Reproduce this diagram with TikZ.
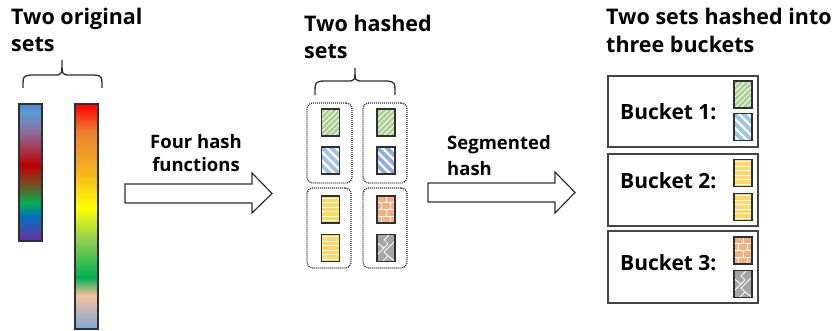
\documentclass[tikz,border=0pt]{standalone}
\usepackage{fontspec}
\setmainfont{Open Sans}
\usetikzlibrary{calc}
\definecolor{cgreen}{HTML}{A9D18E}
\definecolor{cblue}{HTML}{9DC3E6}
\definecolor{cblueb}{HTML}{8FAADC}
\definecolor{cyellow}{HTML}{FFD966}
\definecolor{corange}{HTML}{F4B183}
\definecolor{cgray}{HTML}{A5A5A5}
\definecolor{edge}{HTML}{303030}
\definecolor{gpurple}{HTML}{7030A0}
\definecolor{gdblue}{HTML}{0070C0}
\definecolor{ggreen}{HTML}{00B050}
\definecolor{gbrown}{HTML}{7A4A20}
\definecolor{gred}{HTML}{C00000}
\definecolor{gmauve}{HTML}{8B6E9E}
\definecolor{glblue}{HTML}{5B9BD5}
\definecolor{gtopblue}{HTML}{4F86C6}
\definecolor{gbotblue}{HTML}{7FA8D8}
\definecolor{gpeach}{HTML}{F4C0A0}
\definecolor{glime}{HTML}{92D050}
\definecolor{gyellow}{HTML}{FFFF00}
\definecolor{ggold}{HTML}{F5B41E}
\definecolor{gorange}{HTML}{ED7D31}
\definecolor{gbright}{HTML}{FF0000}
\pgfdeclareverticalshading{barone}{100bp}{%
  color(0bp)=(gpurple);
  color(25bp)=(gpurple);
  color(34bp)=(gdblue);
  color(39bp)=(ggreen);
  color(46bp)=(gbrown);
  color(52.5bp)=(gred);
  color(65bp)=(gmauve);
  color(72bp)=(glblue);
  color(75bp)=(gtopblue);
  color(100bp)=(gtopblue)}
\pgfdeclareverticalshading{bartwo}{100bp}{%
  color(0bp)=(gbotblue);
  color(25bp)=(gbotblue);
  color(32.5bp)=(gpeach);
  color(36.5bp)=(ggreen);
  color(45bp)=(glime);
  color(52bp)=(gyellow);
  color(60bp)=(ggold);
  color(69bp)=(gorange);
  color(75bp)=(gbright);
  color(100bp)=(gbright)}
\tikzset{
  title/.style={anchor=base west, inner sep=0pt, font=\fontsize{21.5}{26}\selectfont\bfseries},
  alabel/.style={inner sep=0pt, font=\fontsize{18.5}{23}\selectfont\bfseries},
  blabel/.style={anchor=west, inner sep=0pt, font=\fontsize{21}{26}\selectfont\bfseries},
  cell/.style={draw=edge, line width=1.3pt, minimum width=18pt, minimum height=27pt, inner sep=0pt},
  greenbox/.style={cell, fill=cgreen, path picture={
     \foreach \k in {-38.5,-33,...,38.5}
       \draw[white, line width=0.9pt, shift={(path picture bounding box.center)}]
         (\k pt-20pt,-20pt) -- (\k pt+20pt,20pt);}},
  bluebox/.style={cell, fill=#1, path picture={
     \foreach \k in {-36,-27,...,36}
       \draw[white, line width=2.4pt, shift={(path picture bounding box.center)}]
         (\k pt-20pt,20pt) -- (\k pt+20pt,-20pt);}},
  bluebox/.default=cblue,
  yellowbox/.style={cell, fill=cyellow, path picture={
     \foreach \k in {-11.25,-6.75,...,11.25}
       \draw[white, line width=0.9pt, shift={(path picture bounding box.center)}]
         (-12pt,\k pt) -- (12pt,\k pt);}},
  brickbox/.style={cell, fill=corange, path picture={
     \begin{scope}[shift={(path picture bounding box.center)}, white, line width=1pt]
       \foreach \k in {-6.75,0,6.75} \draw (-12pt,\k pt) -- (12pt,\k pt);
       \draw (0pt,6.75pt) -- (0pt,14pt);
       \draw (-4.5pt,0pt) -- (-4.5pt,6.75pt) (4.5pt,0pt) -- (4.5pt,6.75pt);
       \draw (0pt,-6.75pt) -- (0pt,0pt);
       \draw (-4.5pt,-14pt) -- (-4.5pt,-6.75pt) (4.5pt,-14pt) -- (4.5pt,-6.75pt);
     \end{scope}}},
  graybox/.style={cell, fill=cgray, path picture={
     \begin{scope}[shift={(path picture bounding box.center)}, white, line width=1pt]
       \draw (-10pt,-8pt) -- (2pt,4pt) -- (-2pt,8pt) -- (10pt,20pt);
       \draw (-10pt,-20pt) -- (2pt,-8pt) -- (-2pt,-4pt) -- (10pt,8pt);
       \draw (2pt,-8pt) -- (10pt,-14pt);
       \draw (-10pt,6pt) -- (-2pt,0pt);
     \end{scope}}},
  grp/.style={draw=edge, dash pattern=on 1pt off 1pt, line width=1.3pt, rounded corners=6pt, minimum width=44pt, minimum height=80pt, inner sep=0pt},
  bucket/.style={draw=edge!90, line width=1.2pt, minimum width=150pt, minimum height=71pt, inner sep=0pt},
  bigarrow/.style={draw=edge, line width=1.2pt, fill=white, line join=miter},
  bracestyle/.style={draw=edge, line width=1.3pt}
}
\begin{document}
\begin{tikzpicture}[x=1pt, y=-1pt]
\useasboundingbox (0,0) rectangle (832,331);

% titles
\node[title] (t1a) at (11,25) {Two original};
\node[title] (t1b) at (11,52) {sets};
\node[title] (t2a) at (304,32) {Two hashed};
\node[title] (t2b) at (304,59) {sets};
\node[title] (t3a) at (606,25) {Two sets hashed into};
\node[title] (t3b) at (606,53) {three buckets};

% braces
\draw[bracestyle] (23,88) .. controls (23,76) .. (31,75) -- (54,75) .. controls (62,75) .. (62,60)
   .. controls (62,75) .. (70,75) -- (94,75) .. controls (102,76) .. (102,88);
\draw[bracestyle] (315,95) .. controls (315,82) .. (323,81) -- (347,81) .. controls (355,81) .. (355,68)
   .. controls (355,81) .. (363,81) -- (387,81) .. controls (395,82) .. (395,95);

% gradient bars
\node[draw=edge, line width=1.2pt, shading=barone, minimum width=23pt, minimum height=137pt, inner sep=0pt] (bar1) at (30.5,172.5) {};
\node[draw=edge, line width=1.2pt, shading=bartwo, minimum width=23pt, minimum height=225pt, inner sep=0pt] (bar2) at (86.5,216.5) {};

% arrow 1
\draw[bigarrow] (125,184) -- (252,184) -- (252,173) -- (272,193.5) -- (252,213) -- (252,203) -- (125,203) -- cycle;
\node[alabel] (l1a) at (196,142) {Four hash};
\node[alabel] (l1b) at (196,165) {functions};

% arrow 2
\draw[bigarrow] (428,183) -- (555,183) -- (555,172) -- (575,192.5) -- (555,213) -- (555,202) -- (428,202) -- cycle;
\node[alabel, anchor=west] (l2a) at (447,145) {Segmented};
\node[alabel, anchor=west] (l2b) at (447,169) {hash};

% hashed sets groups
\node[grp, minimum width=45pt] (g1) at (329.5,143) {};
\node[grp] (g2) at (385,143) {};
\node[grp] (g3) at (329,228) {};
\node[grp] (g4) at (385,228) {};

\node[greenbox] (a1) at (330.5,122.5) {};
\node[bluebox] (a2) at (330.5,160.5) {};
\node[yellowbox] (a3) at (330.5,209.5) {};
\node[yellowbox] (a4) at (330.5,248) {};
\node[greenbox] (b1) at (386,122.5) {};
\node[bluebox=cblueb] (b2) at (386,160.5) {};
\node[brickbox] (b3) at (386,209.5) {};
\node[graybox] (b4) at (386,248) {};

% buckets
\node[bucket] (k1) at (683,111.5) {};
\node[bucket, minimum height=72pt] (k2) at (683,190) {};
\node[bucket, minimum height=72pt] (k3) at (683,267) {};
\node[blabel] (k1t) at (620,112) {Bucket 1:};
\node[blabel] (k2t) at (620,181) {Bucket 2:};
\node[blabel] (k3t) at (620,263) {Bucket 3:};

\node[greenbox] (c1) at (743,94.5) {};
\node[bluebox] (c2) at (743,127) {};
\node[yellowbox] (c3) at (743,173) {};
\node[yellowbox] (c4) at (743,207) {};
\node[brickbox] (c5) at (743,250.5) {};
\node[graybox] (c6) at (743,284) {};
\end{tikzpicture}
\end{document}
